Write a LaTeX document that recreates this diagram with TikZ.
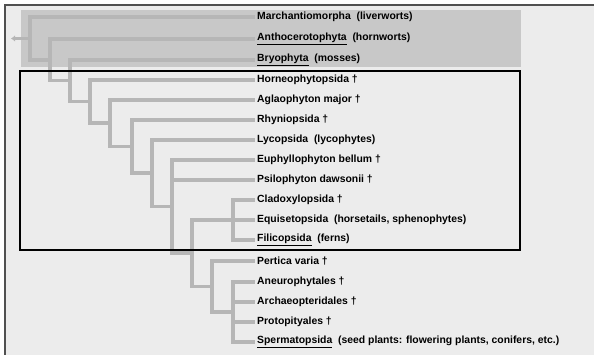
\documentclass[tikz,border=0pt]{standalone}
\usepackage{fontspec}
\setmainfont{Liberation Sans}
\usetikzlibrary{arrows.meta}
\definecolor{bgc}{HTML}{ECECEC}
\definecolor{rectc}{HTML}{C8C8C8}
\definecolor{linec}{HTML}{B6B6B6}
\definecolor{bordc}{HTML}{505050}
\begin{document}
\begin{tikzpicture}[x=1pt,y=-1pt,
  branch/.style={draw=linec, line width=3.5pt, line cap=rect},
  taxon/.style={anchor=west, inner xsep=3.5pt, inner ysep=0pt, font=\fontsize{10.4}{12}\selectfont\bfseries, text=black}]
\useasboundingbox (0,0) rectangle (594,355);
\fill[bgc] (5,5) rectangle (594,355);
\draw[bordc, line width=1.2pt] (594,5) -- (5,5) -- (5,355);
\fill[rectc] (21,10) rectangle (521,67);
% taxa
\node[taxon] (t0) at (253.5,17) {Marchantiomorpha\ \ (liverworts)};
\node[taxon] (t1) at (253.5,39) {\underline{Anthocerotophyta}\ \ (hornworts)};
\node[taxon] (t2) at (253.5,60) {\underline{Bryophyta}\ \ (mosses)};
\node[taxon] (t3) at (253.5,80) {Horneophytopsida †};
\node[taxon] (t4) at (253.5,100) {Aglaophyton major †};
\node[taxon] (t5) at (253.5,120) {Rhyniopsida †};
\node[taxon] (t6) at (253.5,140) {Lycopsida\ \ (lycophytes)};
\node[taxon] (t7) at (253.5,160) {Euphyllophyton bellum †};
\node[taxon] (t8) at (253.5,180) {Psilophyton dawsonii †};
\node[taxon] (t9) at (253.5,200) {Cladoxylopsida †};
\node[taxon] (t10) at (253.5,220) {Equisetopsida\ \ (horsetails, sphenophytes)};
\node[taxon] (t11) at (253.5,240) {\underline{Filicopsida}\ \ (ferns)};
\node[taxon] (t12) at (253.5,261) {Pertica varia †};
\node[taxon] (t13) at (253.5,282) {Aneurophytales †};
\node[taxon] (t14) at (253.5,302) {Archaeopteridales †};
\node[taxon] (t15) at (253.5,322) {Protopityales †};
\node[taxon] (t16) at (253.5,342) {\underline{Spermatopsida}\ \ (seed plants: flowering plants, conifers, etc.)};
% internal nodes
\coordinate (nA) at (233,312);
\coordinate (nB) at (212,286.5);
\coordinate (nC) at (233,220);
\coordinate (nD) at (192,253);
\coordinate (nE) at (172,206.5);
\coordinate (nF) at (152,173);
\coordinate (nG) at (132,146.5);
\coordinate (nH) at (110,123);
\coordinate (nI) at (90,101.5);
\coordinate (nJ) at (70,80.75);
\coordinate (nK) at (50,60);
\coordinate (nL) at (30,38.5);
\coordinate (root) at (11,38.5);
% branches
\draw[linec, line width=3.2pt, -{Latex[length=4pt,width=6.5pt]}] (nL) -- (root);
\draw[branch] (nL) |- (t0.west);
\draw[branch] (nL) |- (nK);
\draw[branch] (nK) |- (t1.west);
\draw[branch] (nK) |- (nJ);
\draw[branch] (nJ) |- (t2.west);
\draw[branch] (nJ) |- (nI);
\draw[branch] (nI) |- (t3.west);
\draw[branch] (nI) |- (nH);
\draw[branch] (nH) |- (t4.west);
\draw[branch] (nH) |- (nG);
\draw[branch] (nG) |- (t5.west);
\draw[branch] (nG) |- (nF);
\draw[branch] (nF) |- (t6.west);
\draw[branch] (nF) |- (nE);
\draw[branch] (nE) |- (t7.west);
\draw[branch] (nE) |- (t8.west);
\draw[branch] (nE) |- (nD);
\draw[branch] (nD) |- (nC);
\draw[branch] (nD) |- (nB);
\draw[branch] (nC) |- (t9.west);
\draw[branch] (nC) |- (t10.west);
\draw[branch] (nC) |- (t11.west);
\draw[branch] (nB) |- (t12.west);
\draw[branch] (nB) |- (nA);
\draw[branch] (nA) |- (t13.west);
\draw[branch] (nA) |- (t14.west);
\draw[branch] (nA) |- (t15.west);
\draw[branch] (nA) |- (t16.west);
% highlighted group
\draw[black, line width=2pt] (20,71) rectangle (520,250);
\end{tikzpicture}
\end{document}
